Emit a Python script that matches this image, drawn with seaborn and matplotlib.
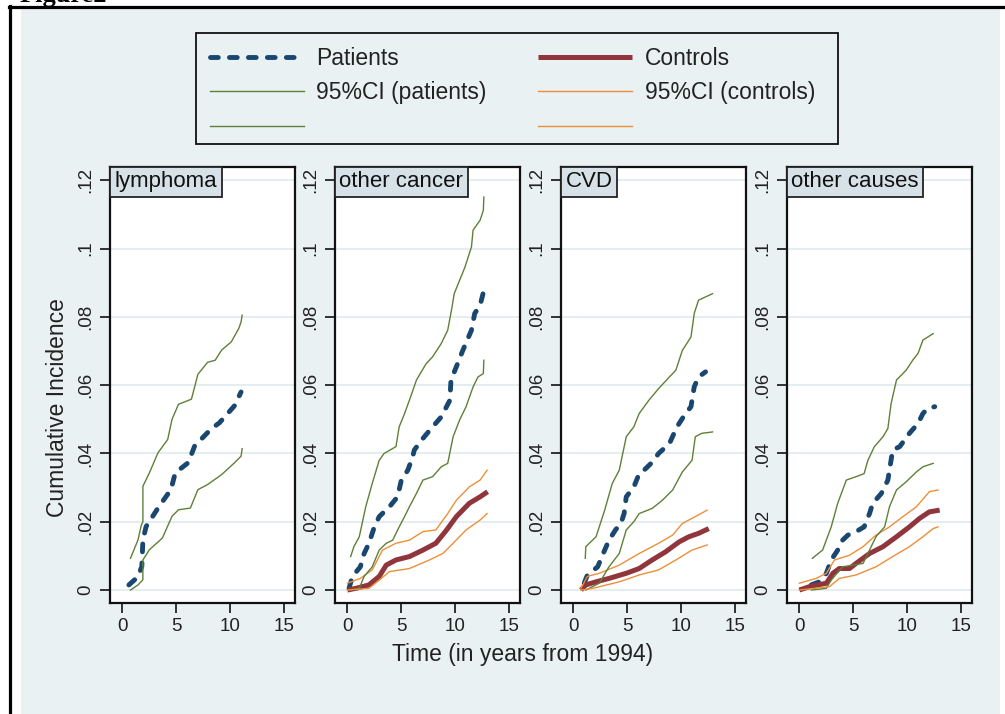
import numpy as np
import pandas as pd
import seaborn as sns
import matplotlib
matplotlib.use("Agg")
import matplotlib.pyplot as plt
from matplotlib.lines import Line2D
from matplotlib.patches import Rectangle

# ---------------- data ----------------
panels = ["lymphoma", "other cancer", "CVD", "other causes"]
xticks = [0, 5, 10, 15]
yticks = [0, 0.02, 0.04, 0.06, 0.08, 0.10, 0.12]
ytick_labels = ["0", ".02", ".04", ".06", ".08", ".1", ".12"]
legend_labels = ["Patients", "Controls", "95%CI (patients)", "95%CI (controls)", " ", " "]
xlabel = "Time (in years from 1994)"
ylabel = "Cumulative Incidence"

# lymphoma
lym_pat_t = [0.6, 1.45, 1.8, 1.9, 2.2, 3.4, 4.5, 4.9, 6.1, 6.7, 8.2, 9.0, 10.4, 11.0]
lym_pat_v = [0.0015, 0.0039, 0.0069, 0.0147, 0.0186, 0.0245, 0.0294, 0.0343, 0.0373, 0.0422, 0.0471, 0.049, 0.054, 0.058]
lym_pup_t = [0.75, 1.45, 1.75, 1.9, 1.9, 2.5, 3.3, 4.2, 4.6, 5.2, 6.4, 7.0, 7.9, 8.6, 9.2, 10.1, 10.8, 11.0, 11.1]
lym_pup_v = [0.0093, 0.0147, 0.019, 0.020, 0.0304, 0.0343, 0.0402, 0.0441, 0.050, 0.0544, 0.0559, 0.0632, 0.0667, 0.0673, 0.0703, 0.0727, 0.0767, 0.0785, 0.0805]
lym_plo_t = [0.75, 1.45, 1.9, 1.9, 2.5, 3.7, 4.6, 5.2, 6.3, 7.0, 7.9, 9.2, 10.4, 11.0, 11.1]
lym_plo_v = [0.0, 0.0015, 0.003, 0.0088, 0.0118, 0.0152, 0.0216, 0.0235, 0.024, 0.0294, 0.0309, 0.0338, 0.0373, 0.0392, 0.0414]

# other cancer
oca_pat_t = [0.15, 0.47, 1.2, 1.55, 2.0, 2.5, 2.95, 3.9, 4.65, 5.0, 5.6, 6.05, 6.2, 7.0, 7.9, 8.7, 9.5, 9.6, 10.1, 10.7, 11.5, 11.8, 12.3, 12.75]
oca_pat_v = [0.0005, 0.004, 0.0068, 0.0107, 0.0137, 0.0185, 0.0215, 0.0244, 0.0273, 0.0322, 0.0351, 0.039, 0.041, 0.0444, 0.0478, 0.0507, 0.0556, 0.0615, 0.0654, 0.0702, 0.0761, 0.081, 0.0834, 0.089]
oca_pup_t = [0.3, 0.6, 1.1, 1.7, 2.3, 2.95, 3.4, 4.5, 4.8, 5.3, 5.75, 6.4, 7.3, 7.9, 8.7, 9.3, 9.7, 9.9, 10.4, 10.9, 11.5, 11.65, 12.3, 12.6, 12.65]
oca_pup_v = [0.0098, 0.0127, 0.0156, 0.0244, 0.0312, 0.038, 0.040, 0.042, 0.0478, 0.0517, 0.0556, 0.0615, 0.0663, 0.0683, 0.0722, 0.0761, 0.0829, 0.0868, 0.0907, 0.0946, 0.1005, 0.1054, 0.1083, 0.1112, 0.1151]
oca_plo_t = [0.15, 1.1, 1.55, 2.3, 2.95, 3.6, 4.2, 4.8, 5.3, 5.75, 6.4, 7.0, 7.9, 8.7, 9.3, 9.8, 10.4, 11.0, 11.65, 12.1, 12.6, 12.65]
oca_plo_v = [0.0, 0.0005, 0.004, 0.0068, 0.0117, 0.0137, 0.0146, 0.0185, 0.0215, 0.0244, 0.0283, 0.0322, 0.0332, 0.0361, 0.0371, 0.0449, 0.0498, 0.0537, 0.0595, 0.0624, 0.0634, 0.0673]
oca_con_t = [0.0, 0.8, 2.0, 2.95, 3.6, 4.5, 5.75, 7.0, 8.2, 9.2, 10.1, 11.3, 12.3, 13.0]
oca_con_v = [0.0, 0.0005, 0.0015, 0.004, 0.0073, 0.0088, 0.0098, 0.0117, 0.0137, 0.0176, 0.0215, 0.0254, 0.0273, 0.0288]
oca_cup_t = [0.0, 1.2, 2.3, 3.25, 4.5, 5.75, 7.0, 8.2, 9.3, 10.1, 11.3, 12.3, 12.95]
oca_cup_v = [0.002, 0.0034, 0.0059, 0.0117, 0.0137, 0.0146, 0.0171, 0.0176, 0.0224, 0.0263, 0.0302, 0.0322, 0.0351]
oca_clo_t = [0.0, 2.0, 2.95, 3.9, 5.75, 7.6, 8.85, 9.8, 11.0, 12.3, 12.95]
oca_clo_v = [0.0, 0.0005, 0.0029, 0.0054, 0.0063, 0.0088, 0.0107, 0.0137, 0.0176, 0.0205, 0.0224]

# CVD
cvd_pat_t = [1.0, 1.3, 2.25, 2.9, 3.3, 3.9, 4.4, 4.7, 4.9, 5.6, 6.1, 6.55, 7.2, 7.9, 8.9, 9.6, 10.4, 10.9, 11.2, 11.6, 12.25]
cvd_pat_v = [0.002, 0.0044, 0.0068, 0.0117, 0.0146, 0.0176, 0.0195, 0.0224, 0.0273, 0.0302, 0.0341, 0.0351, 0.0371, 0.040, 0.0429, 0.0478, 0.0517, 0.0537, 0.0595, 0.0624, 0.0639]
cvd_pup_t = [1.1, 1.15, 2.1, 2.9, 3.6, 4.25, 4.9, 5.6, 6.1, 7.0, 7.9, 8.9, 9.5, 10.1, 10.9, 11.2, 11.6, 12.9]
cvd_pup_v = [0.0093, 0.0127, 0.0156, 0.0234, 0.0312, 0.0351, 0.0449, 0.0478, 0.0517, 0.0556, 0.059, 0.0624, 0.0644, 0.0702, 0.0741, 0.081, 0.0849, 0.0868]
cvd_plo_t = [1.15, 2.4, 3.3, 4.25, 4.9, 5.6, 6.1, 7.3, 8.25, 9.2, 10.1, 11.0, 11.3, 11.9, 12.9]
cvd_plo_v = [0.0, 0.002, 0.0068, 0.0107, 0.0176, 0.020, 0.0224, 0.0239, 0.0263, 0.0293, 0.0346, 0.038, 0.0449, 0.0459, 0.0463]
cvd_con_t = [0.7, 1.15, 2.1, 3.3, 4.9, 6.1, 7.3, 8.55, 9.8, 10.7, 11.6, 12.55]
cvd_con_v = [0.0, 0.0015, 0.0024, 0.0034, 0.0049, 0.0063, 0.0088, 0.0112, 0.0141, 0.0156, 0.0166, 0.018]
cvd_cup_t = [0.7, 1.3, 2.4, 4.25, 6.1, 7.9, 9.2, 10.1, 11.0, 12.4]
cvd_cup_v = [0.0005, 0.004, 0.0049, 0.0073, 0.0107, 0.0137, 0.0161, 0.0195, 0.021, 0.0234]
cvd_clo_t = [0.7, 1.8, 4.25, 6.1, 7.9, 9.5, 11.0, 12.4]
cvd_clo_v = [0.0, 0.0005, 0.0024, 0.0044, 0.0059, 0.0088, 0.0117, 0.0132]

# other causes
ocs_pat_t = [1.1, 1.85, 2.5, 2.95, 3.55, 4.0, 4.5, 5.25, 6.0, 6.5, 6.8, 7.6, 8.2, 8.65, 9.3, 10.2, 11.0, 11.45, 11.9, 12.55]
ocs_pat_v = [0.0015, 0.0024, 0.0049, 0.0088, 0.0117, 0.0146, 0.0161, 0.0171, 0.0185, 0.0224, 0.0254, 0.0283, 0.0322, 0.041, 0.042, 0.0459, 0.0488, 0.0517, 0.0532, 0.0537]
ocs_pup_t = [1.2, 2.15, 2.95, 3.55, 4.35, 5.25, 6.0, 6.35, 6.95, 7.75, 8.2, 8.5, 9.0, 9.9, 10.5, 11.0, 11.45, 12.4]
ocs_pup_v = [0.0093, 0.0117, 0.0185, 0.0254, 0.0322, 0.0332, 0.0341, 0.038, 0.042, 0.0449, 0.0473, 0.0546, 0.0615, 0.0644, 0.0673, 0.0693, 0.0732, 0.0751]
ocs_plo_t = [1.1, 2.5, 2.95, 4.0, 5.9, 6.5, 7.1, 7.9, 8.35, 9.0, 9.9, 10.85, 11.45, 12.4]
ocs_plo_v = [0.0, 0.0005, 0.0029, 0.0068, 0.0078, 0.0117, 0.0156, 0.0185, 0.0244, 0.0293, 0.0317, 0.0346, 0.0361, 0.0371]
ocs_con_t = [0.0, 0.95, 2.5, 3.1, 3.7, 4.65, 5.25, 6.5, 7.75, 9.0, 10.2, 11.15, 12.05, 13.0]
ocs_con_v = [0.0, 0.001, 0.002, 0.0049, 0.0063, 0.0063, 0.0078, 0.0107, 0.0127, 0.0156, 0.0185, 0.021, 0.0229, 0.0234]
ocs_cup_t = [0.0, 1.55, 2.5, 3.25, 4.65, 5.9, 7.1, 8.35, 9.6, 10.85, 12.05, 12.85]
ocs_cup_v = [0.002, 0.0034, 0.0049, 0.0088, 0.0102, 0.0127, 0.0161, 0.0185, 0.0215, 0.0244, 0.0288, 0.0293]
ocs_clo_t = [0.0, 2.8, 3.7, 5.25, 7.1, 8.65, 10.2, 11.45, 12.4, 12.85]
ocs_clo_v = [0.0, 0.001, 0.0034, 0.0044, 0.0068, 0.0098, 0.0127, 0.0156, 0.018, 0.0185]

# table built from the arrays above (drawing order as in the source graph)
series = {
    "lymphoma": [("pat", lym_pat_t, lym_pat_v), ("pci", lym_pup_t, lym_pup_v), ("pci", lym_plo_t, lym_plo_v)],
    "other cancer": [("pat", oca_pat_t, oca_pat_v), ("con", oca_con_t, oca_con_v),
                     ("pci", oca_pup_t, oca_pup_v), ("cci", oca_cup_t, oca_cup_v),
                     ("pci", oca_plo_t, oca_plo_v), ("cci", oca_clo_t, oca_clo_v)],
    "CVD": [("pat", cvd_pat_t, cvd_pat_v), ("con", cvd_con_t, cvd_con_v),
            ("pci", cvd_pup_t, cvd_pup_v), ("cci", cvd_cup_t, cvd_cup_v),
            ("pci", cvd_plo_t, cvd_plo_v), ("cci", cvd_clo_t, cvd_clo_v)],
    "other causes": [("pat", ocs_pat_t, ocs_pat_v), ("con", ocs_con_t, ocs_con_v),
                     ("pci", ocs_pup_t, ocs_pup_v), ("cci", ocs_cup_t, ocs_cup_v),
                     ("pci", ocs_plo_t, ocs_plo_v), ("cci", ocs_clo_t, ocs_clo_v)],
}

# ---------------- styles ----------------
BG = "#EAF1F3"
GRID = "#E2ECEF"
LABEL_FILL = "#D6E2E7"
NAVY = "#1A476F"
MAROON = "#90353B"
GREEN = "#5E8038"
ORANGE = "#EC8F3A"
styles = {
    "pat": dict(color=NAVY, linewidth=3.5, linestyle=(0, (1.6, 2.3)), dash_capstyle="round"),
    "con": dict(color=MAROON, linewidth=3.6, solid_capstyle="butt"),
    "pci": dict(color=GREEN, linewidth=1.0),
    "cci": dict(color=ORANGE, linewidth=1.0),
}

FONT = "Liberation Sans"
plt.rcParams["font.family"] = [FONT, "DejaVu Sans"]

W, H = 1005, 714
fig = plt.figure(figsize=(W / 100, H / 100), dpi=100, facecolor="white")


def fx(px):
    return px / W


def fy(py):
    return 1 - py / H


# background region and page border
fig.patches.append(Rectangle((fx(21), fy(714)), fx(1000) - fx(21), fy(9) - fy(714),
                             transform=fig.transFigure, facecolor=BG, edgecolor="none", zorder=-10))
fig.lines.append(Line2D([fx(10), fx(10)], [fy(6), fy(714)], lw=2.3, color="black", transform=fig.transFigure))
fig.lines.append(Line2D([fx(9), fx(1005)], [fy(7), fy(7)], lw=2.3, color="black", transform=fig.transFigure))
fig.text(fx(20), fy(2), "Figure2", fontfamily="Liberation Serif", fontweight="bold", fontsize=19,
         ha="left", va="baseline")

lefts = [110, 335, 561, 787]
pw = 185
top_px, bot_px = 167, 603

for name, lp in zip(panels, lefts):
    ax = fig.add_axes([fx(lp), fy(bot_px), fx(pw), fy(top_px) - fy(bot_px)])
    ax.set_facecolor("white")
    for kind, t, v in series[name]:
        sns.lineplot(x=t, y=v, ax=ax, estimator=None, sort=False, legend=False, **styles[kind])
    ax.set_xlim(-1.15, 16.0)
    ax.set_ylim(-0.0038, 0.1239)
    ax.set_xticks(xticks)
    ax.set_xticklabels([str(x) for x in xticks], fontsize=13.5, color="#222222")
    ax.set_yticks(yticks)
    ax.set_yticklabels(ytick_labels, fontsize=13.5, color="#222222", rotation=90, va="center")
    ax.tick_params(axis="both", direction="out", length=7, width=1.3, color="#222222", pad=4)
    ax.yaxis.grid(True, color=GRID, linewidth=1.3)
    ax.xaxis.grid(False)
    ax.set_axisbelow(True)
    for s in ax.spines.values():
        s.set_color("#111111")
        s.set_linewidth(1.6)
    ax.set_xlabel("")
    ax.set_ylabel("")
    ax.annotate(name, xy=(0, 1), xycoords="axes fraction", xytext=(3.2, -3.2), textcoords="offset points",
                ha="left", va="top", fontsize=16, color="#111111",
                bbox=dict(boxstyle="square,pad=0.2", facecolor=LABEL_FILL, edgecolor="#222222", linewidth=1.3),
                zorder=10)

# axis titles
fig.text(fx(523), fy(654), xlabel, ha="center", va="center", fontsize=16.5, color="#222222")
fig.text(fx(57), fy(408), ylabel, ha="center", va="center", rotation=90, fontsize=16.5, color="#222222")

# legend box (drawn as a figure rectangle) and legend entries (column-major order for matplotlib)
fig.patches.append(Rectangle((fx(196), fy(144)), fx(838) - fx(196), fy(33) - fy(144),
                             transform=fig.transFigure, facecolor=BG, edgecolor="#111111",
                             linewidth=1.3, zorder=1))
h_pat = Line2D([], [], **styles["pat"])
h_con = Line2D([], [], **styles["con"])
h_pci = Line2D([], [], **styles["pci"])
h_cci = Line2D([], [], **styles["cci"])
handles = [h_pat, h_pci, h_pci, h_con, h_cci, h_cci]
labels = [legend_labels[0], legend_labels[2], legend_labels[4], legend_labels[1], legend_labels[3], legend_labels[5]]
leg = fig.legend(handles, labels, ncol=2, loc="upper left",
                 bbox_to_anchor=(fx(196), fy(33)),
                 fontsize=16.5, handlelength=4.1, handletextpad=0.55, labelspacing=0.5,
                 borderpad=0.6, borderaxespad=0, columnspacing=2.25, frameon=False)
for txt in leg.get_texts():
    txt.set_color("#222222")

fig.savefig("out.png", dpi=100, facecolor="white")
